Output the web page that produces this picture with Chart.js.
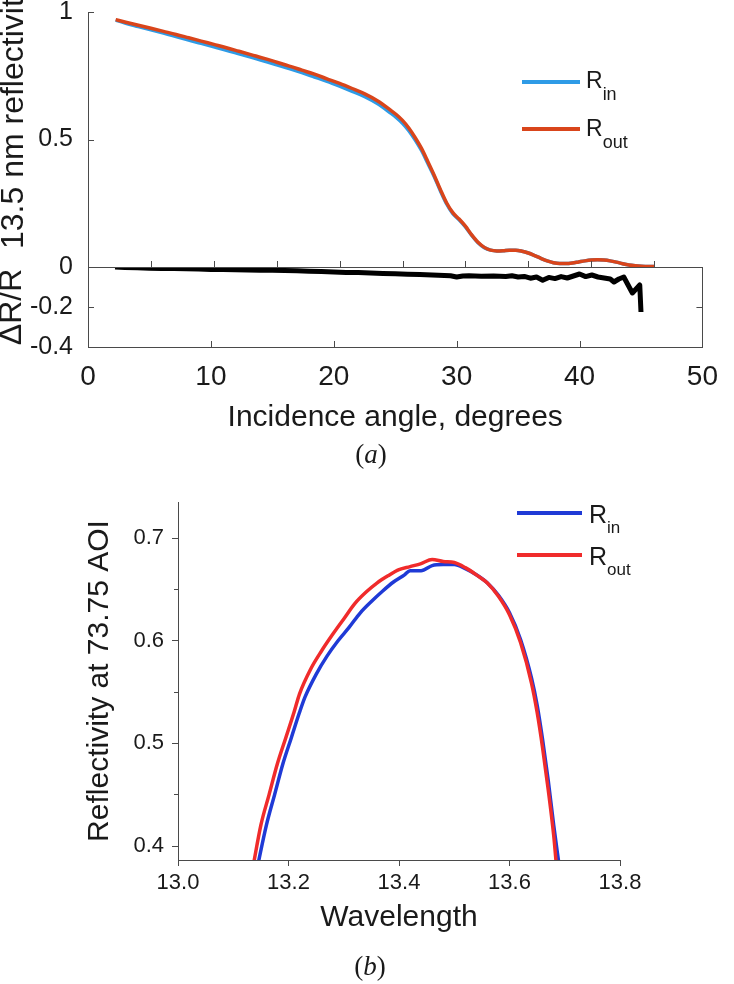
<!DOCTYPE html>
<html>
<head>
<meta charset="utf-8">
<script src="https://cdn.jsdelivr.net/npm/chart.js@4.4.1/dist/chart.umd.min.js"></script>
<style>
  html, body { margin: 0; padding: 0; background: #fff; }
  body { width: 734px; height: 984px; position: relative; overflow: hidden; font-family: "Liberation Sans", Arial, sans-serif; color: #1a1a1a; }
  canvas { position: absolute; left: 0; }
  .lg-line { position: absolute; height: 4px; }
  .lg-text { position: absolute; line-height: 1; white-space: nowrap; }
  .lg-text sub { vertical-align: baseline; position: relative; }
  .ytitle { position: absolute; font-size: 32px; line-height: 1; white-space: nowrap; transform: rotate(-90deg); transform-origin: 0 0; }
  .cap { position: absolute; font-family: "Liberation Serif", serif; font-size: 27px; line-height: 1; transform: translateX(-50%); }
</style>
</head>
<body>
<canvas id="reflChart" width="734" height="317" style="top:-20px"></canvas>
<canvas id="diffChart" width="734" height="206" style="top:237px"></canvas>
<canvas id="waveChart" width="734" height="514" style="top:470px"></canvas>

<div class="ytitle" style="left:-4px; top:249px">13.5 nm reflectivity</div>

<div class="lg-line" style="left:522px; top:80px; width:58px; background:#2e9be6"></div>
<div class="lg-text" style="left:586px; top:69px; font-size:23px">R<sub style="font-size:18px; top:12px">in</sub></div>
<div class="lg-line" style="left:522px; top:127px; width:58px; background:#d9451b"></div>
<div class="lg-text" style="left:586px; top:117px; font-size:23px">R<sub style="font-size:18px; top:12px">out</sub></div>

<div class="cap" style="left:371px; top:441px">(<i>a</i>)</div>

<div class="lg-line" style="left:517px; top:511px; width:65px; background:#1f3ad6"></div>
<div class="lg-text" style="left:589px; top:502px; font-size:25px">R<sub style="font-size:17px; top:10px">in</sub></div>
<div class="lg-line" style="left:517px; top:553px; width:65px; background:#f02b2b"></div>
<div class="lg-text" style="left:589px; top:544px; font-size:25px">R<sub style="font-size:17px; top:10px">out</sub></div>

<div class="cap" style="left:370px; top:953px">(<i>b</i>)</div>

<script>
// (a) reflectivity vs incidence angle
const angles = [2.2, 3, 4, 5, 6, 7, 8, 9, 10, 11, 12, 13, 14, 15, 16, 17, 18, 19, 20, 21, 22, 23, 24, 24.5, 25, 25.5, 26, 26.5, 27, 27.5, 28, 28.5, 29, 29.5, 30, 30.5, 31, 31.5, 32, 32.5, 33, 33.5, 34, 34.5, 35, 35.5, 36, 36.5, 37, 37.5, 38, 38.5, 39, 39.5, 40, 40.5, 41, 41.5, 42, 42.5, 43, 43.5, 44, 44.5, 45];
const rOutAngle = [0.970, 0.960, 0.948, 0.936, 0.924, 0.912, 0.899, 0.886, 0.873, 0.860, 0.846, 0.832, 0.818, 0.803, 0.788, 0.772, 0.756, 0.738, 0.720, 0.700, 0.679, 0.652, 0.617, 0.598, 0.575, 0.545, 0.508, 0.466, 0.415, 0.362, 0.305, 0.252, 0.213, 0.188, 0.160, 0.126, 0.097, 0.077, 0.066, 0.063, 0.064, 0.066, 0.066, 0.062, 0.055, 0.045, 0.034, 0.024, 0.017, 0.014, 0.014, 0.016, 0.020, 0.024, 0.027, 0.028, 0.027, 0.024, 0.019, 0.013, 0.008, 0.005, 0.003, 0.002, 0.002];
const rInAngle = [0.968, 0.956, 0.943, 0.930, 0.917, 0.904, 0.890, 0.877, 0.863, 0.850, 0.836, 0.822, 0.808, 0.793, 0.778, 0.762, 0.745, 0.728, 0.709, 0.689, 0.668, 0.641, 0.606, 0.587, 0.564, 0.535, 0.499, 0.458, 0.408, 0.357, 0.300, 0.248, 0.209, 0.185, 0.157, 0.124, 0.095, 0.076, 0.066, 0.063, 0.064, 0.066, 0.066, 0.062, 0.055, 0.045, 0.034, 0.024, 0.017, 0.014, 0.014, 0.016, 0.020, 0.024, 0.027, 0.028, 0.027, 0.024, 0.019, 0.013, 0.008, 0.005, 0.003, 0.002, 0.002];

// (a) relative difference
const diffAngles = [2.2, 3, 4, 5, 6, 7, 8, 9, 10, 11, 12, 13, 14, 15, 16, 17, 18, 19, 20, 21, 22, 23, 24, 25, 26, 27, 28, 29, 29.5, 30, 30.5, 31, 32, 33, 34, 34.5, 35, 35.5, 36, 36.5, 37, 37.5, 38, 38.5, 39, 39.5, 40, 40.5, 41, 41.5, 42, 42.5, 42.8, 43.2, 43.6, 44.3, 44.6, 44.9, 45];
const deltaR = [0, -0.002, -0.004, -0.006, -0.007, -0.008, -0.009, -0.010, -0.012, -0.013, -0.014, -0.015, -0.016, -0.016, -0.018, -0.019, -0.021, -0.023, -0.025, -0.027, -0.028, -0.030, -0.032, -0.034, -0.036, -0.038, -0.040, -0.042, -0.044, -0.050, -0.045, -0.044, -0.046, -0.045, -0.047, -0.044, -0.050, -0.047, -0.056, -0.050, -0.066, -0.052, -0.058, -0.048, -0.055, -0.045, -0.035, -0.048, -0.040, -0.050, -0.055, -0.060, -0.075, -0.060, -0.050, -0.130, -0.110, -0.090, -0.225];

// (b) reflectivity vs wavelength
const wlOut = [13.136, 13.15, 13.165, 13.18, 13.195, 13.21, 13.22, 13.24, 13.26, 13.28, 13.30, 13.32, 13.34, 13.36, 13.38, 13.40, 13.42, 13.44, 13.46, 13.48, 13.50, 13.52, 13.54, 13.56, 13.58, 13.60, 13.62, 13.64, 13.65, 13.66, 13.67, 13.68, 13.685];
const rOutWl = [0.380, 0.420, 0.450, 0.480, 0.505, 0.530, 0.548, 0.572, 0.590, 0.606, 0.621, 0.636, 0.647, 0.656, 0.663, 0.669, 0.672, 0.675, 0.679, 0.677, 0.676, 0.671, 0.664, 0.656, 0.643, 0.625, 0.598, 0.558, 0.530, 0.495, 0.455, 0.410, 0.380];
const wlIn = [13.144, 13.16, 13.175, 13.19, 13.205, 13.22, 13.23, 13.25, 13.27, 13.29, 13.31, 13.33, 13.35, 13.37, 13.39, 13.41, 13.42, 13.44, 13.46, 13.48, 13.50, 13.52, 13.54, 13.56, 13.58, 13.60, 13.62, 13.64, 13.65, 13.66, 13.67, 13.68, 13.69];
const rInWl = [0.380, 0.420, 0.450, 0.480, 0.505, 0.530, 0.545, 0.567, 0.585, 0.600, 0.613, 0.627, 0.638, 0.648, 0.657, 0.664, 0.668, 0.668, 0.673, 0.674, 0.674, 0.670, 0.664, 0.656, 0.644, 0.627, 0.601, 0.563, 0.537, 0.503, 0.464, 0.420, 0.380];

const angleTicks = [0, 10, 20, 30, 40, 50];
const angleMinorTicks = [5, 10, 15, 20, 25, 30, 35, 40, 45];
const wlTicks = [13.0, 13.2, 13.4, 13.6, 13.8];
const wlReflTicks = [0.4, 0.5, 0.6, 0.7];
const wlReflMinor = [0.45, 0.55, 0.65];

const toPoints = (xs, ys) => xs.map((x, i) => ({ x: x, y: ys[i] }));

Chart.defaults.font.family = '"Liberation Sans", Arial, sans-serif';
Chart.defaults.color = '#1a1a1a';
Chart.defaults.animation = false;
Chart.defaults.plugins.legend.display = false;
Chart.defaults.plugins.tooltip.enabled = false;
Chart.defaults.elements.point.radius = 0;

// draws small axis ticks (inside or outside) and an optional box
const tickMarks = {
    id: 'tickMarks',
    afterDraw(chart, args, opts) {
        const ctx = chart.ctx;
        const area = chart.chartArea;
        ctx.save();
        ctx.strokeStyle = opts.color || '#4a4a4a';
        ctx.lineWidth = 1;
        if (opts.box) {
            ctx.strokeRect(Math.round(area.left) + 0.5, Math.round(area.top) + 0.5,
                Math.round(area.right - area.left), Math.round(area.bottom - area.top));
        }
        (opts.items || []).forEach(item => {
            const scale = chart.scales[item.scale];
            item.values.forEach(v => {
                const p = Math.round(scale.getPixelForValue(v)) + 0.5;
                ctx.beginPath();
                if (item.side === 'left') { ctx.moveTo(area.left, p); ctx.lineTo(area.left + item.len, p); }
                if (item.side === 'right') { ctx.moveTo(area.right, p); ctx.lineTo(area.right - item.len, p); }
                if (item.side === 'bottom') { ctx.moveTo(p, area.bottom); ctx.lineTo(p, area.bottom - item.len); }
                ctx.stroke();
            });
        });
        ctx.restore();
    }
};

// nudge padding / canvas offset until the plot area sits where the figure has it
function pinArea(chart, want) {
    const pad = chart.config.options.layout.padding;
    for (let k = 0; k < 4; k++) {
        const a = chart.chartArea;
        const dh = (want.bottom - want.top) - (a.bottom - a.top);
        const dr = want.right - a.right;
        if (Math.abs(dh) < 0.5 && Math.abs(dr) < 0.5) break;
        pad.bottom -= dh;
        pad.right -= dr;
        chart.update();
    }
    chart.canvas.style.top = (want.top - chart.chartArea.top) + 'px';
}

const axisColor = '#4a4a4a';

const reflChart = new Chart(document.getElementById('reflChart'), {
    type: 'line',
    data: {
        datasets: [
            { label: 'R_out', data: toPoints(angles, rOutAngle), borderColor: '#d9451b', borderWidth: 3.5, cubicInterpolationMode: 'monotone' },
            { label: 'R_in', data: toPoints(angles, rInAngle), borderColor: '#2e9be6', borderWidth: 3.5, cubicInterpolationMode: 'monotone' }
        ]
    },
    options: {
        responsive: false,
        layout: { autoPadding: false, padding: { top: 32, right: 17, bottom: 30, left: 0 } },
        scales: {
            x: { type: 'linear', min: 0, max: 50, display: false },
            y: {
                min: 0, max: 1,
                afterFit: s => { s.width = 88; },
                border: { color: axisColor },
                grid: { display: false, drawTicks: false },
                ticks: {
                    stepSize: 0.5, padding: 15,
                    font: { size: 25, lineHeight: 1 },
                    callback: v => (v === 0 ? null : String(v))
                }
            }
        },
        plugins: {
            tickMarks: {
                items: [
                    { scale: 'y', side: 'left', len: 6, values: [0.5, 1] },
                    { scale: 'x', side: 'bottom', len: 6, values: angleMinorTicks }
                ]
            }
        }
    },
    plugins: [tickMarks]
});
pinArea(reflChart, { top: 12, bottom: 267, right: 717 });

const diffChart = new Chart(document.getElementById('diffChart'), {
    type: 'line',
    data: {
        datasets: [
            { label: 'dR/R', data: toPoints(diffAngles, deltaR), borderColor: '#000', borderWidth: 5, tension: 0, borderJoinStyle: 'round' }
        ]
    },
    options: {
        responsive: false,
        layout: { autoPadding: false, padding: { top: 30, right: 17, bottom: 10, left: 0 } },
        scales: {
            x: {
                type: 'linear', min: 0, max: 50,
                afterFit: s => { s.height = 86; },
                border: { color: axisColor },
                grid: { display: false, drawTicks: false },
                ticks: { stepSize: 10, padding: 16, font: { size: 28, lineHeight: 1 }, callback: v => String(v) },
                afterBuildTicks: s => { s.ticks = angleTicks.map(v => ({ value: v })); },
                title: { display: true, text: 'Incidence angle, degrees', font: { size: 30, lineHeight: 1 }, padding: 0 }
            },
            y: {
                min: -0.4, max: 0,
                afterFit: s => { s.width = 88; },
                border: { color: axisColor },
                grid: { display: false, drawTicks: false },
                ticks: {
                    stepSize: 0.2, padding: 15,
                    font: { size: 25, lineHeight: 1 },
                    callback: v => (Math.abs(v) < 1e-9 ? '0' : v.toFixed(1))
                },
                title: { display: true, text: 'ΔR/R', font: { size: 32, lineHeight: 0.75 }, padding: 0 }
            }
        },
        plugins: {
            tickMarks: {
                box: true,
                items: [
                    { scale: 'y', side: 'left', len: 6, values: [-0.2] },
                    { scale: 'y', side: 'right', len: 6, values: [-0.2] },
                    { scale: 'x', side: 'bottom', len: 6, values: [10, 20, 30, 40] }
                ]
            }
        }
    },
    plugins: [tickMarks]
});
pinArea(diffChart, { top: 267, bottom: 347, right: 717 });

const waveChart = new Chart(document.getElementById('waveChart'), {
    type: 'line',
    data: {
        datasets: [
            { label: 'R_out', data: toPoints(wlOut, rOutWl), borderColor: '#f02b2b', borderWidth: 3.5, cubicInterpolationMode: 'monotone' },
            { label: 'R_in', data: toPoints(wlIn, rInWl), borderColor: '#1f3ad6', borderWidth: 3.5, cubicInterpolationMode: 'monotone' }
        ]
    },
    options: {
        responsive: false,
        layout: { autoPadding: false, padding: { top: 32, right: 114, bottom: 51, left: 0 } },
        scales: {
            x: {
                type: 'linear', min: 13.0, max: 13.8,
                afterFit: s => { s.height = 73; },
                border: { color: axisColor },
                grid: { display: false, drawTicks: false },
                ticks: { padding: 12, font: { size: 22, lineHeight: 1 }, callback: v => v.toFixed(1) },
                afterBuildTicks: s => { s.ticks = wlTicks.map(v => ({ value: v })); },
                title: { display: true, text: 'Wavelength', font: { size: 30, lineHeight: 1 }, padding: 0 }
            },
            y: {
                min: 0.386, max: 0.735,
                afterFit: s => { s.width = 178; },
                border: { color: axisColor },
                grid: { display: false, drawTicks: false },
                ticks: { padding: 14, font: { size: 22, lineHeight: 1 }, callback: v => v.toFixed(1) },
                afterBuildTicks: s => { s.ticks = wlReflTicks.map(v => ({ value: v })); },
                title: { display: true, text: 'Reflectivity at 73.75 AOI', font: { size: 30, lineHeight: 1 }, padding: { top: 85 } }
            }
        },
        plugins: {
            tickMarks: {
                items: [
                    { scale: 'y', side: 'left', len: -6, values: wlReflTicks },
                    { scale: 'y', side: 'left', len: -4, values: wlReflMinor },
                    { scale: 'x', side: 'bottom', len: -6, values: wlTicks }
                ]
            }
        }
    },
    plugins: [tickMarks]
});
pinArea(waveChart, { top: 502, bottom: 860, right: 620 });
</script>
</body>
</html>
